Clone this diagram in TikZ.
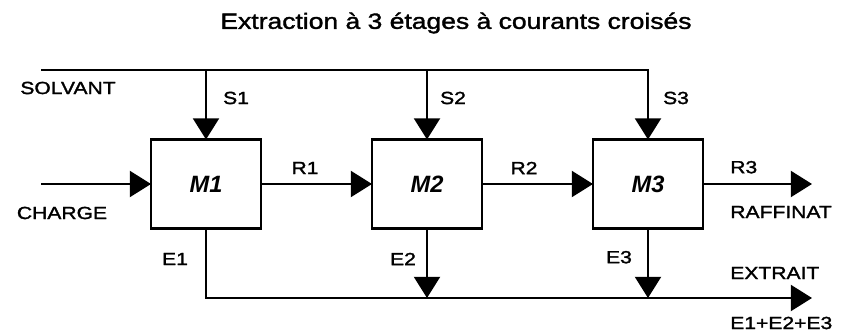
\documentclass[tikz,border=0pt]{standalone}
\usepackage{fontspec}
\setmainfont{Liberation Sans}[FakeStretch=1.2, FakeBold=1.6]
\newfontfamily\stagefont{Liberation Sans}
\usetikzlibrary{arrows.meta, positioning}

\begin{document}
\begin{tikzpicture}[
    node distance=1cm and 2.775cm,
    block/.style={draw, rectangle, line width=1.8pt, outer sep=0pt, minimum width=2.75cm, minimum height=2.225cm, font=\stagefont\fontsize{16.8}{18}\selectfont\bfseries\itshape},
    lbl/.style={font=\fontsize{12.5}{14}\selectfont, inner sep=0pt},
    flow/.style={line width=1.6pt},
    arrow/.style={flow, -{Triangle[length=0.53cm,width=0.65cm]}}
]
\useasboundingbox (0,0) rectangle (21.125,-8.35);

% Title
\node (title) at (11.4,-0.575) {\fontsize{15.7}{18}\selectfont Extraction à 3 étages à courants croisés};

% Stages
\node (m1) [block] at (5.15,-4.6) {M1};
\node (m2) [block, right=of m1] {M2};
\node (m3) [block, right=of m2] {M3};

% Free ends
\coordinate (solvin) at (1.025,-1.75);
\coordinate (chargein) at (1.025,-4.6);
\coordinate (raffout) at (20.3,-4.6);
\coordinate (extout) at (20.3,-7.45);

% Links
\draw[arrow] (solvin) -| (m3.north);
\draw[arrow] (m1.north |- solvin) -- (m1.north);
\draw[arrow] (m2.north |- solvin) -- (m2.north);
\draw[arrow] (chargein) -- (m1);
\draw[arrow] (m1) -- (m2);
\draw[arrow] (m2) -- (m3);
\draw[arrow] (m3) -- (raffout);
\draw[arrow] (m1.south) |- (extout);
\draw[arrow] (m2.south) -- (m2.south |- extout);
\draw[arrow] (m3.south) -- (m3.south |- extout);

% Labels
\node (solvant) [lbl] at (1.7,-2.2) {SOLVANT};
\node (s1) [lbl] at (5.9,-2.45) {S1};
\node (s2) [lbl] at (11.325,-2.45) {S2};
\node (s3) [lbl] at (16.9,-2.45) {S3};
\node (r1) [lbl] at (7.625,-4.2) {R1};
\node (r2) [lbl] at (13.1,-4.2) {R2};
\node (r3) [lbl, anchor=west] at (18.25,-4.18) {R3};
\node (charge) [lbl] at (1.55,-5.325) {CHARGE};
\node (raffinat) [lbl, anchor=west] at (18.25,-5.3) {RAFFINAT};
\node (e1) [lbl] at (4.375,-6.475) {E1};
\node (e2) [lbl] at (10.075,-6.475) {E2};
\node (e3) [lbl] at (15.475,-6.43) {E3};
\node (extrait) [lbl, anchor=west] at (18.25,-6.825) {EXTRAIT};
\node (somme) [lbl, anchor=west] at (18.25,-8.075) {E1+E2+E3};

\end{tikzpicture}
\end{document}
